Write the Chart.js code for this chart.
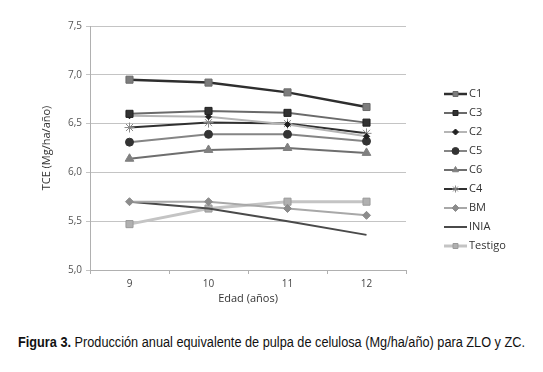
<!DOCTYPE html>
<html>
<head>
<meta charset="utf-8">
<script src="https://cdn.jsdelivr.net/npm/chart.js@4/dist/chart.umd.min.js"></script>
<style>
  body { margin: 0; background: #fff; }
  #wrap { position: relative; width: 543px; height: 310px; }
  #caption {
    position: absolute; left: 18px; top: 333px; white-space: nowrap;
    font-family: 'Liberation Sans', Arial, sans-serif;
    font-size: 14px; line-height: 18px; color: #111; transform-origin: 0 0;
  }
</style>
</head>
<body>
<div id="wrap"><canvas id="graf" width="543" height="310"></canvas></div>
<div id="caption"><b>Figura 3.</b> Producción anual equivalente de pulpa de celulosa (Mg/ha/año) para ZLO y ZC.</div>
<script>
  // edades
  const edades = ['9', '10', '11', '12']

  // TCE por clon (Mg/ha/año)
  const C1 = [6.95, 6.92, 6.82, 6.67]
  const C3 = [6.60, 6.63, 6.61, 6.51]
  const C2 = [6.58, 6.57, 6.49, 6.37]
  const C5 = [6.31, 6.39, 6.39, 6.32]
  const C6 = [6.14, 6.23, 6.25, 6.20]
  const C4 = [6.46, 6.51, 6.50, 6.40]
  const BM = [5.70, 5.70, 5.63, 5.56]
  const INIA = [5.70, 5.63, 5.50, 5.36]
  const Testigo = [5.47, 5.63, 5.70, 5.70]

  const yTicks = [5.0, 5.5, 6.0, 6.5, 7.0, 7.5]

  // texto de la figura: letra angosta, se comprime a lo ancho
  const cap = document.getElementById('caption')
  cap.style.transform = 'scaleX(' + (507 / cap.offsetWidth) + ')'

  function serie(label, data, line, width, style, radius, fill, border) {
    return {
      label: label,
      data: data,
      borderColor: line,
      borderWidth: width,
      pointStyle: style,
      pointRadius: radius,
      pointBackgroundColor: fill,
      pointBorderColor: border,
      pointBorderWidth: 1,
      tension: 0,
      fill: false
    }
  }

  const datasets = [
    serie('C1', C1, '#2e2e2e', 2.5, 'rect', 5, '#7d7d7d', '#6a6a6a'),
    serie('C3', C3, '#6a6a6a', 2, 'rect', 5, '#333333', '#222222'),
    serie('C2', C2, '#b5b5b5', 2, 'rectRot', 3, '#222222', '#222222'),
    serie('C5', C5, '#858585', 2, 'circle', 4, '#333333', '#333333'),
    serie('C6', C6, '#6e6e6e', 2, 'triangle', 5, '#808080', '#808080'),
    serie('C4', C4, '#303030', 2, 'star', 5, '#ffffff', '#8a8a8a'),
    serie('BM', BM, '#a8a8a8', 2, 'rectRot', 4, '#8c8c8c', '#8c8c8c'),
    serie('INIA', INIA, '#4a4a4a', 2, 'circle', 0, '#4a4a4a', '#4a4a4a'),
    serie('Testigo', Testigo, '#c4c4c4', 3, 'rect', 5, '#b0b0b0', '#9a9a9a')
  ]

  // leyenda a la derecha, dibujada a mano
  const leyenda = {
    id: 'leyenda',
    afterDraw(chart) {
      const ctx = chart.ctx
      const x0 = 444, x1 = 467, yy0 = 94, paso = 19
      chart.data.datasets.forEach((ds, i) => {
        const y = yy0 + i * paso
        ctx.save()
        ctx.strokeStyle = ds.borderColor
        ctx.lineWidth = ds.borderWidth
        ctx.beginPath()
        ctx.moveTo(x0, y)
        ctx.lineTo(x1, y)
        ctx.stroke()
        if (ds.pointRadius > 0 && Chart.helpers && Chart.helpers.drawPoint) {
          ctx.fillStyle = ds.pointBackgroundColor
          ctx.strokeStyle = ds.pointBorderColor
          ctx.lineWidth = 1
          Chart.helpers.drawPoint(ctx, {
            pointStyle: ds.pointStyle,
            radius: Math.min(ds.pointRadius, 3.5),
            borderWidth: 1,
            rotation: 0
          }, (x0 + x1) / 2, y)
        }
        ctx.fillStyle = '#333'
        ctx.font = '11px "Open Sans", sans-serif'
        ctx.textBaseline = 'middle'
        ctx.textAlign = 'left'
        ctx.fillText(ds.label, x1 + 2, y)
        ctx.restore()
      })
    }
  }

  new Chart(
    document.getElementById('graf'),
    {
      type: 'line',
      data: {
        labels: edades,
        datasets: datasets
      },
      plugins: [leyenda],
      options: {
        responsive: false,
        animation: false,
        layout: { padding: { left: 40, right: 137, top: 26, bottom: 0 } },
        plugins: {
          legend: { display: false },
          tooltip: { enabled: false }
        },
        scales: {
          x: {
            offset: true,
            afterFit(scale) { scale.height = 40 },
            grid: { offset: true, drawOnChartArea: false, tickLength: 4, color: '#b0b0b0' },
            border: { color: '#b0b0b0' },
            ticks: { color: '#444', font: { family: 'Open Sans', size: 10 }, padding: 4 },
            title: {
              display: true, text: 'Edad (años)', color: '#333',
              font: { family: 'Open Sans', size: 11 }, padding: { top: 0, bottom: 5 }
            }
          },
          y: {
            min: 5, max: 7.5,
            afterFit(scale) { scale.width = 50 },
            afterBuildTicks(scale) { scale.ticks = yTicks.map(v => ({ value: v })) },
            grid: { color: '#c4c4c4', tickLength: 4 },
            border: { color: '#b0b0b0' },
            ticks: {
              color: '#555', font: { family: 'Open Sans', size: 10 }, padding: 4,
              callback: v => v.toFixed(1).replace('.', ',')
            },
            title: {
              display: true, text: 'TCE (Mg/ha/año)', color: '#333',
              font: { family: 'Open Sans', size: 11 }, padding: { top: 0, bottom: 4 }
            }
          }
        }
      }
    }
  );
</script>
</body>
</html>
